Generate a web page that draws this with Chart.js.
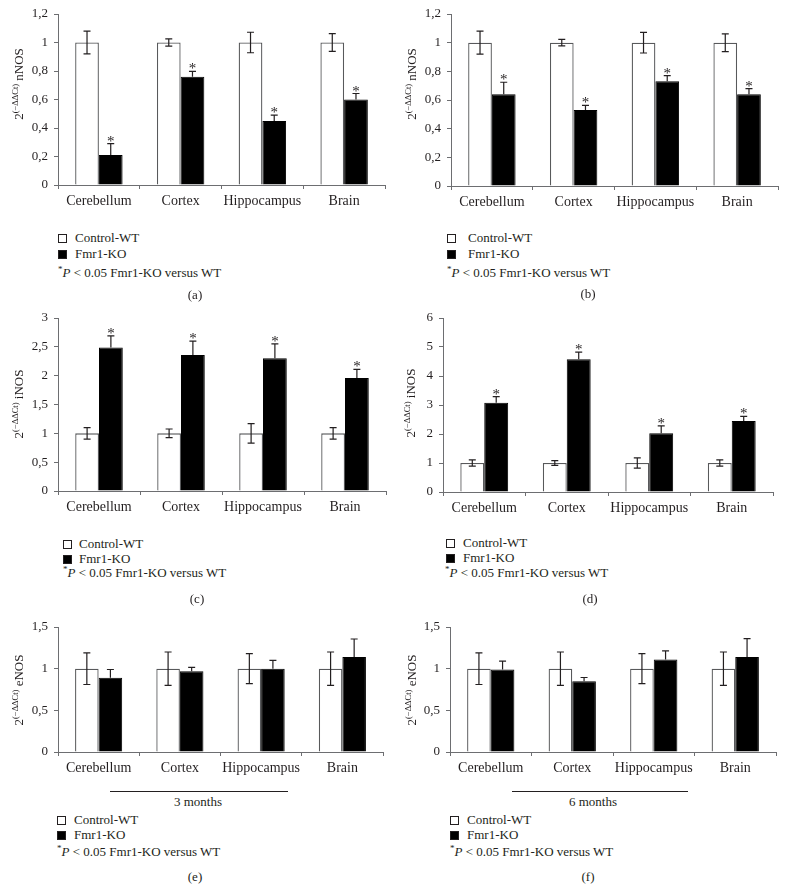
<!DOCTYPE html>
<html>
<head>
<meta charset="utf-8">
<script src="https://cdn.jsdelivr.net/npm/chart.js@4/dist/chart.umd.min.js"></script>
<style>
  body { margin: 0; background: #fff; }
  #page { position: relative; width: 786px; height: 892px; font-family: "Liberation Serif", serif; color: #231f20; }
  canvas { position: absolute; }
  .txt { position: absolute; font-size: 13px; line-height: 16px; white-space: nowrap; }
  .sq { position: absolute; width: 7px; height: 7px; border: 1px solid #231f20; }
  .cap { position: absolute; font-size: 13px; line-height: 16px; transform: translateX(-50%); white-space: nowrap; }
  .line { position: absolute; height: 0; border-top: 1px solid #231f20; }
  sup { font-size: 9px; vertical-align: 5px; line-height: 0; }
</style>
</head>
<body>
<div id="page">
  <canvas id="pa" width="393" height="215" style="left:0;top:0"></canvas>
  <canvas id="pb" width="393" height="216" style="left:393px;top:0"></canvas>
  <canvas id="pc" width="393" height="221" style="left:0;top:300px"></canvas>
  <canvas id="pd" width="393" height="222" style="left:393px;top:300px"></canvas>
  <canvas id="pe" width="393" height="182" style="left:0;top:600px"></canvas>
  <canvas id="pf" width="393" height="182" style="left:393px;top:600px"></canvas>
</div>
<script>
const categories = ['Cerebellum', 'Cortex', 'Hippocampus', 'Brain'];
const seriesNames = ['Control-WT', 'Fmr1-KO'];
const footnote = '<sup>*</sup><i>P</i> &lt; 0.05 Fmr1-KO versus WT';

// (a) nNOS
const aWT = [1, 1, 1, 1];
const aWTErr = [0.08, 0.025, 0.072, 0.062];
const aKO = [0.21, 0.76, 0.45, 0.60];
const aKOErr = [0.08, 0.037, 0.04, 0.042];

// (b) nNOS
const bWT = [1, 1, 1, 1];
const bWTErr = [0.08, 0.023, 0.072, 0.062];
const bKO = [0.64, 0.53, 0.73, 0.64];
const bKOErr = [0.084, 0.033, 0.04, 0.04];

// (c) iNOS
const cWT = [1, 1, 1, 1];
const cWTErr = [0.1, 0.075, 0.17, 0.1];
const cKO = [2.49, 2.36, 2.30, 1.96];
const cKOErr = [0.2, 0.24, 0.25, 0.15];

// (d) iNOS
const dWT = [1, 1, 1, 1];
const dWTErr = [0.11, 0.08, 0.18, 0.11];
const dKO = [3.08, 4.58, 2.03, 2.45];
const dKOErr = [0.21, 0.24, 0.25, 0.16];

// (e) eNOS, 3 months
const eWT = [1, 1, 1, 1];
const eWTErr = [0.19, 0.2, 0.18, 0.2];
const eKO = [0.89, 0.97, 1.0, 1.14];
const eKOErr = [0.1, 0.045, 0.1, 0.216];

// (f) eNOS, 6 months
const fWT = [1, 1, 1, 1];
const fWTErr = [0.19, 0.2, 0.18, 0.2];
const fKO = [0.99, 0.85, 1.11, 1.14];
const fKOErr = [0.1, 0.044, 0.104, 0.22];

const serif = '"Liberation Serif", serif';
const ink = '#231f20';
const axisGray = '#6d6e71';

function fmt(v) {
  return String(Math.round(v * 10) / 10).replace('.', ',');
}

function makePanel(p) {
  const errorBars = {
    id: 'errorBars' + p.id,
    afterDatasetsDraw(chart) {
      const ctx = chart.ctx;
      const y = chart.scales.y;
      ctx.save();
      ctx.strokeStyle = ink;
      ctx.lineWidth = 1.2;
      chart.data.datasets.forEach((ds, d) => {
        const meta = chart.getDatasetMeta(d);
        meta.data.forEach((bar, i) => {
          const v = ds.data[i], e = ds.errors[i];
          const top = y.getPixelForValue(v + e);
          const bot = d === 0 ? y.getPixelForValue(v - e) : y.getPixelForValue(v);
          ctx.beginPath();
          ctx.moveTo(bar.x, top); ctx.lineTo(bar.x, bot);
          ctx.moveTo(bar.x - 3.5, top); ctx.lineTo(bar.x + 3.5, top);
          if (d === 0) { ctx.moveTo(bar.x - 3.5, bot); ctx.lineTo(bar.x + 3.5, bot); }
          ctx.stroke();
          if (d === 1 && p.stars) {
            ctx.fillStyle = ink;
            ctx.font = '15px ' + serif;
            ctx.textAlign = 'center';
            ctx.textBaseline = 'alphabetic';
            ctx.fillText('*', bar.x, top + 2);
          }
        });
      });
      ctx.restore();
    }
  };

  const axisTitle = {
    id: 'axisTitle' + p.id,
    afterDraw(chart) {
      const ctx = chart.ctx;
      const big = '13px ' + serif, small = '8.5px ' + serif;
      const sup = '(\u2212\u0394\u0394Ct)';
      ctx.save();
      ctx.translate(p.titleX, p.titleY);
      ctx.rotate(-Math.PI / 2);
      ctx.fillStyle = ink;
      ctx.textBaseline = 'alphabetic';
      ctx.font = big;
      const w1 = ctx.measureText('2').width;
      const w3 = ctx.measureText(' ' + p.gene).width;
      ctx.font = small;
      const w2 = ctx.measureText(sup).width;
      let x = -(w1 + w2 + w3) / 2;
      ctx.font = big; ctx.fillText('2', x, 0); x += w1;
      ctx.font = small; ctx.fillText(sup, x, -5.5); x += w2;
      ctx.font = big; ctx.fillText(' ' + p.gene, x, 0);
      ctx.restore();
    }
  };

  return new Chart(document.getElementById(p.id), {
    type: 'bar',
    data: {
      labels: categories,
      datasets: [
        { label: seriesNames[0], data: p.wt, errors: p.wtErr, backgroundColor: '#fff', borderColor: '#58595b', borderWidth: 1.3 },
        { label: seriesNames[1], data: p.ko, errors: p.koErr, backgroundColor: '#000', borderColor: '#000', borderWidth: 1 }
      ]
    },
    options: {
      responsive: false,
      animation: false,
      layout: { padding: { top: p.padTop, right: p.padRight, left: 0, bottom: 0 } },
      datasets: { bar: { barPercentage: 1, categoryPercentage: 0.58 } },
      plugins: { legend: { display: false }, tooltip: { enabled: false } },
      scales: {
        x: {
          afterFit(s) { s.height = 30; },
          grid: { drawOnChartArea: false, drawTicks: true, tickLength: 4, color: axisGray, offset: true },
          border: { color: axisGray, width: 1 },
          ticks: { color: ink, font: { family: serif, size: 14 }, padding: 4, maxRotation: 0, minRotation: 0, autoSkip: false }
        },
        y: {
          min: 0,
          max: p.max,
          afterFit(s) { s.width = p.yWidth; },
          grid: { drawOnChartArea: false, drawTicks: true, tickLength: 4, color: axisGray },
          border: { color: axisGray, width: 1 },
          ticks: { stepSize: p.step, color: ink, font: { family: serif, size: 13 }, padding: 6, callback: fmt }
        }
      }
    },
    plugins: [errorBars, axisTitle]
  });
}

const panels = [
  { id: 'pa', wt: aWT, wtErr: aWTErr, ko: aKO, koErr: aKOErr, max: 1.2, step: 0.2, gene: 'nNOS', stars: true,
    padTop: 14, padRight: 8, yWidth: 58, titleX: 23, titleY: 84 },
  { id: 'pb', wt: bWT, wtErr: bWTErr, ko: bKO, koErr: bKOErr, max: 1.2, step: 0.2, gene: 'nNOS', stars: true,
    padTop: 14, padRight: 8, yWidth: 58, titleX: 23, titleY: 84 },
  { id: 'pc', wt: cWT, wtErr: cWTErr, ko: cKO, koErr: cKOErr, max: 3, step: 0.5, gene: 'iNOS', stars: true,
    padTop: 18, padRight: 7, yWidth: 58, titleX: 23, titleY: 104 },
  { id: 'pd', wt: dWT, wtErr: dWTErr, ko: dKO, koErr: dKOErr, max: 6, step: 1, gene: 'iNOS', stars: true,
    padTop: 18, padRight: 13, yWidth: 50, titleX: 22, titleY: 103 },
  { id: 'pe', wt: eWT, wtErr: eWTErr, ko: eKO, koErr: eKOErr, max: 1.5, step: 0.5, gene: 'eNOS', stars: false,
    padTop: 27, padRight: 10, yWidth: 58, titleX: 23, titleY: 90 },
  { id: 'pf', wt: fWT, wtErr: fWTErr, ko: fKO, koErr: fKOErr, max: 1.5, step: 0.5, gene: 'eNOS', stars: false,
    padTop: 27, padRight: 10, yWidth: 57, titleX: 23, titleY: 90 }
];
panels.forEach(makePanel);

// legends and captions below each panel
const page = document.getElementById('page');
function add(cls, html, left, top, extra) {
  const el = document.createElement('div');
  el.className = cls;
  el.innerHTML = html;
  el.style.left = left + 'px';
  el.style.top = top + 'px';
  if (extra) Object.assign(el.style, extra);
  page.appendChild(el);
  return el;
}
const legends = [
  { sq: 58, tx: 75, px: 58, rows: [238, 254, 273], cap: '(a)', capX: 195, capY: 295 },
  { sq: 447, tx: 468, px: 447, rows: [238, 254, 273], cap: '(b)', capX: 588, capY: 294 },
  { sq: 63, tx: 79, px: 63, rows: [544, 559, 573], cap: '(c)', capX: 197, capY: 599 },
  { sq: 446, tx: 463, px: 445, rows: [543, 558, 573], cap: '(d)', capX: 590, capY: 599 },
  { sq: 57, tx: 74, px: 57, rows: [820, 835, 852], cap: '(e)', capX: 195, capY: 877,
    months: '3 months', lineX: [110, 288], mX: 198 },
  { sq: 450, tx: 467, px: 450, rows: [820, 835, 852], cap: '(f)', capX: 588, capY: 877,
    months: '6 months', lineX: [512, 688], mX: 593 }
];
legends.forEach(l => {
  add('sq', '', l.sq, l.rows[0] - 4, { background: '#fff' });
  add('txt', seriesNames[0], l.tx, l.rows[0] - 8);
  add('sq', '', l.sq, l.rows[1] - 4, { background: '#000' });
  add('txt', seriesNames[1], l.tx, l.rows[1] - 8);
  add('txt', footnote, l.px, l.rows[2] - 8);
  add('cap', l.cap, l.capX, l.capY - 8);
  if (l.months) {
    add('line', '', l.lineX[0], 791, { width: (l.lineX[1] - l.lineX[0]) + 'px' });
    add('cap', l.months, l.mX, 802 - 8);
  }
});
</script>
</body>
</html>
